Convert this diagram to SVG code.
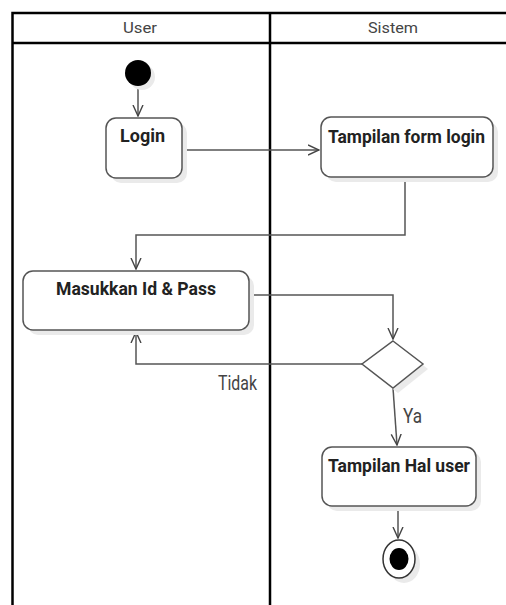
<svg xmlns="http://www.w3.org/2000/svg" width="506" height="605" viewBox="0 0 506 605">
  <style>
    .lane { stroke: #000; stroke-width: 2.5; fill: none; }
    .lane-title { font-family: Roboto, "Liberation Sans", sans-serif; font-size: 15.5px; fill: #444; }
    .box { fill: #fff; stroke: #555; stroke-width: 1.5; }
    .shadow { fill: #eaeaea; }
    .label { font-family: Roboto, "Liberation Sans", sans-serif; font-size: 18px; font-weight: bold; fill: #222; }
    .edge { fill: none; stroke: #555; stroke-width: 1.5; }
    .edge-label { font-family: Roboto, "Liberation Sans", sans-serif; font-size: 20px; fill: #444; }
  </style>
  <defs>
    <marker id="open-arrow" viewBox="0 0 12 12" refX="11" refY="6" markerWidth="12" markerHeight="12" markerUnits="userSpaceOnUse" orient="auto">
      <path d="M0,1 L11,6 L0,11" fill="none" stroke="#444" stroke-width="1.4"/>
    </marker>
  </defs>

  <rect width="506" height="605" fill="#fff"/>

  <!-- swimlanes -->
  <g id="swimlanes">
    <path class="lane" d="M12.5,605 V13 H506 M12.5,43 H506 M270,13 V605"/>
    <text class="lane-title" x="123" y="33" textLength="34" lengthAdjust="spacingAndGlyphs">User</text>
    <text class="lane-title" x="368" y="33" textLength="50" lengthAdjust="spacingAndGlyphs">Sistem</text>
  </g>

  <!-- connectors -->
  <g id="connectors">
    <path class="edge" d="M138,86 V116" marker-end="url(#open-arrow)"/>
    <path class="edge" d="M182,150 H319" marker-end="url(#open-arrow)"/>
    <path class="edge" d="M405,177 V235 H136 V269" marker-end="url(#open-arrow)"/>
    <path class="edge" d="M249,295 H393 V339" marker-end="url(#open-arrow)"/>
    <path class="edge" d="M362,364 H136 V332" marker-end="url(#open-arrow)"/>
    <path class="edge" d="M393,388 L397,445" marker-end="url(#open-arrow)"/>
    <path class="edge" d="M398,506 V538" marker-end="url(#open-arrow)"/>
    <text class="edge-label" x="218" y="390" textLength="39" lengthAdjust="spacingAndGlyphs">Tidak</text>
    <text class="edge-label" x="403" y="423" textLength="19" lengthAdjust="spacingAndGlyphs">Ya</text>
  </g>

  <g id="start">
    <circle class="shadow" cx="142" cy="77" r="13"/>
    <circle cx="138" cy="73" r="13" fill="#000"/>
  </g>

  <g id="login">
    <rect class="shadow" x="111" y="123" width="76" height="60" rx="10"/>
    <rect class="box" x="106" y="118" width="76" height="60" rx="10"/>
    <text class="label" x="120" y="142" textLength="45" lengthAdjust="spacingAndGlyphs">Login</text>
  </g>

  <g id="tampilan-form-login">
    <rect class="shadow" x="326" y="122" width="172" height="60" rx="10"/>
    <rect class="box" x="321" y="117" width="172" height="60" rx="10"/>
    <text class="label" x="328" y="143" textLength="157" lengthAdjust="spacingAndGlyphs">Tampilan form login</text>
  </g>

  <g id="masukkan-id-pass">
    <rect class="shadow" x="28" y="276" width="226" height="59" rx="10"/>
    <rect class="box" x="23" y="271" width="226" height="59" rx="10"/>
    <text class="label" x="56" y="295" textLength="160" lengthAdjust="spacingAndGlyphs">Masukkan Id &amp; Pass</text>
  </g>

  <g id="decision">
    <polygon class="shadow" points="398,346 428,369 398,393 367,369"/>
    <polygon class="box" points="393,341 423,364 393,388 362,364"/>
  </g>

  <g id="tampilan-hal-user">
    <rect class="shadow" x="327" y="452" width="154" height="59" rx="10"/>
    <rect class="box" x="322" y="447" width="154" height="59" rx="10"/>
    <text class="label" x="328" y="472" textLength="142" lengthAdjust="spacingAndGlyphs">Tampilan Hal user</text>
  </g>

  <g id="end">
    <ellipse class="shadow" cx="404" cy="564" rx="16" ry="19"/>
    <ellipse cx="399" cy="559" rx="16" ry="19" fill="#fff" stroke="#333" stroke-width="1.5"/>
    <ellipse cx="399" cy="559" rx="9.5" ry="11" fill="#000"/>
  </g>
</svg>
